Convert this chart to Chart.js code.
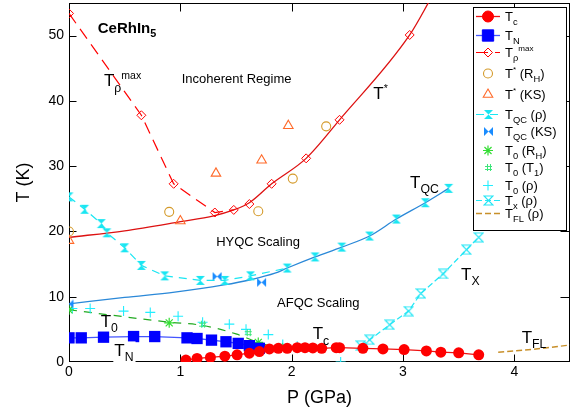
<!DOCTYPE html>
<html>
<head>
<meta charset="utf-8">
<script src="https://cdn.jsdelivr.net/npm/chart.js@4.4.1/dist/chart.umd.min.js"></script>
<style>
  html, body { margin: 0; padding: 0; background: #fff; }
  #chart { display: block; }
</style>
</head>
<body>
<canvas id="chart" width="573" height="413"></canvas>
<script>
// CeRhIn5 phase diagram, pressure P (GPa) vs temperature T (K)
const xTicks = [0, 1, 2, 3, 4];
const yTicks = [0, 10, 20, 30, 40, 50];

const tcP = [1.05, 1.15, 1.27, 1.40, 1.51, 1.62, 1.71, 1.80, 1.88, 1.96, 2.05, 2.12, 2.19, 2.27, 2.40, 2.43, 2.64, 2.82, 3.01, 3.21, 3.34, 3.50, 3.68];
const tcT = [0.3, 0.55, 0.7, 0.9, 1.1, 1.35, 1.6, 2.0, 2.1, 2.1, 2.2, 2.2, 2.15, 2.1, 2.2, 2.2, 2.1, 2.0, 1.9, 1.7, 1.5, 1.4, 1.1];

const tnP = [0, 0.11, 0.31, 0.58, 0.77, 1.06, 1.15, 1.28, 1.41, 1.52, 1.62, 1.71];
const tnT = [3.7, 3.7, 3.8, 3.9, 3.9, 3.7, 3.6, 3.35, 3.1, 2.85, 2.5, 2.1];

const rhoMaxP = [0, 0.65, 0.94, 1.31, 1.48, 1.62, 1.82, 2.13, 2.43, 3.06];
const rhoMaxT = [53.4, 37.8, 27.3, 22.9, 23.3, 24.2, 27.3, 31.2, 37.1, 50.1];

const starRhP = [0, 0.90, 1.70, 2.01, 2.31];
const starRhT = [20.0, 23.0, 23.1, 28.1, 36.1];

const starKsP = [0, 1.0, 1.32, 1.73, 1.97];
const starKsT = [18.6, 21.6, 28.9, 30.9, 36.2];

// T* crossover line (solid red)
const starLineP = [0, 0.5, 1.0, 1.3, 1.48, 1.62, 1.82, 2.13, 2.43, 3.06, 3.26];
const starLineT = [19.1, 20.1, 21.5, 22.4, 23.3, 24.4, 27.3, 31.2, 37.1, 50.1, 56];

const qcRhoP = [0, 0.14, 0.29, 0.34, 0.50, 0.65, 0.86, 1.18, 1.40, 1.63, 1.96, 2.21, 2.45, 2.70, 2.94, 3.20, 3.41];
const qcRhoT = [25.3, 23.4, 21.2, 19.8, 17.5, 14.8, 13.2, 12.5, 12.5, 13.2, 14.4, 16.1, 17.6, 19.3, 21.9, 24.4, 26.6];

const qcKsP = [0, 1.33, 1.73];
const qcKsT = [8.9, 13.1, 12.2];

// T_QC line (solid blue)
const qcLineP = [0, 0.5, 0.95, 1.39, 1.63, 1.85, 1.96, 2.21, 2.45, 2.70, 2.94, 3.20, 3.41];
const qcLineT = [8.9, 9.9, 10.7, 11.8, 12.6, 13.6, 14.4, 16.1, 17.6, 19.3, 21.9, 24.4, 26.6];

const t0RhP = [0, 0.90, 1.70];
const t0RhT = [8.0, 6.0, 3.0];

const t0T1P = [1.20, 1.61, 1.90];
const t0T1T = [5.8, 4.5, 2.4];

const t0RhoP = [0.03, 0.19, 0.49, 0.73, 0.98, 1.20, 1.44, 1.59, 1.79, 1.92, 2.05, 2.44];
const t0RhoT = [8.2, 8.2, 7.8, 7.6, 7.0, 6.1, 5.8, 5.0, 4.2, 2.7, 2.4, 0.0];

// T0 guide line (green dashed)
const t0LineP = [0, 0.9, 1.2, 1.5, 1.7, 1.85, 1.95];
const t0LineT = [8.0, 6.1, 5.6, 4.3, 3.0, 2.3, 2.0];

const txP = [2.62, 2.70, 2.88, 3.05, 3.16, 3.36, 3.57, 3.68];
const txT = [2.5, 3.4, 5.7, 7.8, 10.5, 13.5, 17.2, 19.1];

const tflP = [3.855, 4.17, 4.5];
const tflT = [1.5, 1.95, 2.6];

const FONT = '"Liberation Sans", Arial, sans-serif';

function pts(xs, ys) {
    return xs.map((x, i) => ({ x: x, y: ys[i] }));
}

// little canvases for the marker shapes Chart.js does not have
function hourglass(color, filled, sideways) {
    const c = document.createElement("canvas");
    c.width = 11;
    c.height = 11;
    const g = c.getContext("2d");
    g.fillStyle = color;
    g.strokeStyle = color;
    g.lineWidth = 1.2;
    g.beginPath();
    if (sideways) {
        g.moveTo(1, 1); g.lineTo(10, 10); g.lineTo(10, 1); g.lineTo(1, 10);
    } else {
        g.moveTo(1, 1); g.lineTo(10, 1); g.lineTo(1, 10); g.lineTo(10, 10);
    }
    g.closePath();
    if (filled) g.fill(); else g.stroke();
    return c;
}

function hashMark(color) {
    const c = document.createElement("canvas");
    c.width = 9;
    c.height = 9;
    const g = c.getContext("2d");
    g.strokeStyle = color;
    g.lineWidth = 1;
    g.beginPath();
    g.moveTo(3.5, 1); g.lineTo(3.5, 8);
    g.moveTo(6.5, 1); g.lineTo(6.5, 8);
    g.moveTo(1, 3.5); g.lineTo(8, 3.5);
    g.moveTo(1, 6.5); g.lineTo(8, 6.5);
    g.stroke();
    return c;
}

const NONE = "rgba(0,0,0,0)";

const datasets = [
    { // 0
        label: "Tc", data: pts(tcP, tcT), showLine: true,
        borderColor: "#ee1111", borderWidth: 1.3,
        pointStyle: "circle", pointRadius: 5.5, pointBorderWidth: 0,
        pointBackgroundColor: "#ff0000", pointBorderColor: "#ff0000"
    },
    { // 1
        label: "TN", data: pts(tnP, tnT), showLine: true,
        borderColor: "#4455ff", borderWidth: 1.3,
        pointStyle: "rect", pointRadius: 8, pointBorderWidth: 0,
        pointBackgroundColor: "#0000ff", pointBorderColor: "#0000ff"
    },
    { // 2
        label: "Trho max", data: pts(rhoMaxP, rhoMaxT), showLine: true,
        borderColor: "#ff0000", borderWidth: 1.2, borderDash: [12, 7],
        segment: { borderColor: c => c.p0.parsed.x >= 1.45 ? NONE : undefined },
        pointStyle: "rectRot", pointRadius: 4.5, pointBorderWidth: 1,
        pointBackgroundColor: NONE, pointBorderColor: "#ff0000"
    },
    { // 3
        label: "T* (RH)", data: pts(starRhP, starRhT), showLine: false,
        pointStyle: "circle", pointRadius: 4.5, pointBorderWidth: 1.1,
        pointBackgroundColor: NONE, pointBorderColor: "#d49a2a", borderColor: "#d49a2a"
    },
    { // 4
        label: "T* (KS)", data: pts(starKsP, starKsT), showLine: false,
        pointStyle: "triangle", pointRadius: 5.5, pointBorderWidth: 1.1,
        pointBackgroundColor: NONE, pointBorderColor: "#ff6a2a", borderColor: "#ff6a2a"
    },
    { // 5
        label: "TQC (rho)", data: pts(qcRhoP, qcRhoT), showLine: true,
        borderColor: "#19e6f2", borderWidth: 1.2, borderDash: [8, 6],
        segment: { borderColor: c => c.p0.parsed.x >= 1.9 ? NONE : undefined },
        pointStyle: hourglass("#19e6f2", true, false), pointRadius: 5
    },
    { // 6
        label: "TQC (KS)", data: pts(qcKsP, qcKsT), showLine: false,
        borderColor: "#1a8cff",
        pointStyle: hourglass("#1a8cff", true, true), pointRadius: 5
    },
    { // 7
        label: "T0 (RH)", data: pts(t0RhP, t0RhT), showLine: false,
        pointStyle: "star", pointRadius: 5, pointBorderWidth: 1.2,
        pointBorderColor: "#33dd33", borderColor: "#33dd33"
    },
    { // 8
        label: "T0 (T1)", data: pts(t0T1P, t0T1T), showLine: false,
        borderColor: "#3de57a",
        pointStyle: hashMark("#3de57a"), pointRadius: 4
    },
    { // 9
        label: "T0 (rho)", data: pts(t0RhoP, t0RhoT), showLine: false,
        pointStyle: "cross", pointRadius: 5, pointBorderWidth: 1.1,
        pointBorderColor: "#22eeff", borderColor: "#22eeff"
    },
    { // 10
        label: "Tx (rho)", data: pts(txP, txT), showLine: true,
        borderColor: "#22e6f5", borderWidth: 1.2, borderDash: [6, 3],
        pointStyle: hourglass("#22e6f5", false, false), pointRadius: 5
    },
    { // 11
        label: "TFL (rho)", data: pts(tflP, tflT), showLine: true,
        borderColor: "#c8902a", borderWidth: 1.4, borderDash: [6, 3],
        cubicInterpolationMode: "monotone", pointRadius: 0
    },
    { // 12 T* line
        label: "T* line", data: pts(starLineP, starLineT), showLine: true,
        borderColor: "#dd1111", borderWidth: 1.3,
        cubicInterpolationMode: "monotone", pointRadius: 0
    },
    { // 13 TQC line
        label: "TQC line", data: pts(qcLineP, qcLineT), showLine: true,
        borderColor: "#2a88d8", borderWidth: 1.3,
        cubicInterpolationMode: "monotone", pointRadius: 0
    },
    { // 14 T0 line
        label: "T0 line", data: pts(t0LineP, t0LineT), showLine: true,
        borderColor: "#22aa22", borderWidth: 1.2, borderDash: [8, 7],
        cubicInterpolationMode: "monotone", pointRadius: 0
    }
];

// text with _{sub} and ^{sup}
function parseRich(s) {
    const parts = [];
    let buf = "";
    let i = 0;
    while (i < s.length) {
        const ch = s[i];
        if ((ch === "_" || ch === "^") && s[i + 1] === "{") {
            if (buf) { parts.push({ t: buf, k: "n" }); buf = ""; }
            const end = s.indexOf("}", i);
            parts.push({ t: s.slice(i + 2, end), k: ch === "_" ? "sub" : "sup" });
            i = end + 1;
        } else {
            buf += ch;
            i++;
        }
    }
    if (buf) parts.push({ t: buf, k: "n" });
    return parts;
}

function richWidth(ctx, s, size, bold) {
    let w = 0;
    parseRich(s).forEach(p => {
        const fs = p.k === "n" ? size : p.k === "sub" ? size * 0.72 : size * 0.62;
        ctx.font = (bold ? "bold " : "") + fs + "px " + FONT;
        w += ctx.measureText(p.t).width;
    });
    return w;
}

// y is the middle of the capitals
function drawRich(ctx, s, x, y, size, bold) {
    ctx.textAlign = "left";
    ctx.textBaseline = "alphabetic";
    const base = y + size * 0.36;
    parseRich(s).forEach(p => {
        let fs = size, dy = 0;
        if (p.k === "sub") { fs = size * 0.72; dy = size * 0.32; }
        if (p.k === "sup") { fs = size * 0.62; dy = -size * 0.42; }
        ctx.font = (bold ? "bold " : "") + fs + "px " + FONT;
        ctx.fillText(p.t, x, base + dy);
        x += ctx.measureText(p.t).width;
    });
}

function drawMarker(ctx, d, x, y) {
    const style = d.pointStyle;
    if (!style || d.pointRadius === 0) return;
    if (typeof style !== "string") {
        ctx.drawImage(style, Math.round(x - style.width / 2), Math.round(y - style.height / 2));
        return;
    }
    const r = d.pointRadius;
    ctx.save();
    ctx.fillStyle = d.pointBackgroundColor || NONE;
    ctx.strokeStyle = d.pointBorderColor || d.borderColor;
    ctx.lineWidth = d.pointBorderWidth || 1;
    ctx.setLineDash([]);
    ctx.beginPath();
    if (style === "circle") {
        ctx.arc(x, y, r, 0, Math.PI * 2);
    } else if (style === "rect") {
        const s = r * Math.SQRT1_2;
        ctx.rect(x - s, y - s, 2 * s, 2 * s);
    } else if (style === "rectRot") {
        ctx.moveTo(x - r, y); ctx.lineTo(x, y - r); ctx.lineTo(x + r, y); ctx.lineTo(x, y + r);
        ctx.closePath();
    } else if (style === "triangle") {
        let a = 0;
        ctx.moveTo(x + Math.sin(a) * r, y - Math.cos(a) * r);
        a += Math.PI * 2 / 3;
        ctx.lineTo(x + Math.sin(a) * r, y - Math.cos(a) * r);
        a += Math.PI * 2 / 3;
        ctx.lineTo(x + Math.sin(a) * r, y - Math.cos(a) * r);
        ctx.closePath();
    } else if (style === "cross" || style === "star") {
        ctx.moveTo(x, y - r); ctx.lineTo(x, y + r);
        ctx.moveTo(x - r, y); ctx.lineTo(x + r, y);
        if (style === "star") {
            const q = r * Math.SQRT1_2;
            ctx.moveTo(x - q, y - q); ctx.lineTo(x + q, y + q);
            ctx.moveTo(x - q, y + q); ctx.lineTo(x + q, y - q);
        }
    }
    ctx.fill();
    ctx.stroke();
    ctx.restore();
}

// frame round the plot with inward ticks on all four sides
const framePlugin = {
    id: "frame",
    beforeDatasetsDraw(chart) {
        const { ctx, chartArea: a, scales } = chart;
        const L = Math.round(a.left) + 0.5, R = Math.round(a.right) - 0.5;
        const T = Math.round(a.top) + 0.5, B = Math.round(a.bottom) - 0.5;
        ctx.save();
        ctx.strokeStyle = "#000";
        ctx.lineWidth = 1;
        ctx.strokeRect(L, T, R - L, B - T);
        ctx.beginPath();
        scales.x.ticks.forEach(t => {
            const px = Math.round(scales.x.getPixelForValue(t.value)) + 0.5;
            if (px <= L + 1 || px >= R - 1) return;
            ctx.moveTo(px, B); ctx.lineTo(px, B - 7);
            ctx.moveTo(px, T); ctx.lineTo(px, T + 8);
        });
        scales.y.ticks.forEach(t => {
            const py = Math.round(scales.y.getPixelForValue(t.value)) + 0.5;
            if (py <= T + 1 || py >= B - 1) return;
            ctx.moveTo(L, py); ctx.lineTo(L + 7, py);
            ctx.moveTo(R, py); ctx.lineTo(R - 9, py);
        });
        ctx.stroke();
        ctx.restore();
    }
};

// labels inside the plot, placed in data units
const notes = [
    { text: "CeRhIn_{5}", p: 0.258, t: 51.3, size: 15, bold: true },
    { text: "T_{ρ}^{max}", p: 0.314, t: 43.2, size: 17 },
    { text: "Incoherent Regime", p: 1.505, t: 43.4, size: 13, center: true },
    { text: "T^{*}", p: 2.733, t: 41.2, size: 17 },
    { text: "T_{QC}", p: 3.063, t: 27.6, size: 17 },
    { text: "HYQC Scaling", p: 1.698, t: 18.5, size: 13, center: true },
    { text: "AFQC Scaling", p: 2.239, t: 9.1, size: 13, center: true },
    { text: "T_{0}", p: 0.285, t: 6.3, size: 17 },
    { text: "T_{N}", p: 0.407, t: 1.85, size: 17, box: true },
    { text: "T_{c}", p: 2.189, t: 4.4, size: 17 },
    { text: "T_{X}", p: 3.521, t: 13.5, size: 17 },
    { text: "T_{FL}", p: 4.066, t: 3.9, size: 17 }
];

const notesPlugin = {
    id: "notes",
    afterDatasetsDraw(chart) {
        const { ctx, scales } = chart;
        ctx.save();
        notes.forEach(n => {
            let x = scales.x.getPixelForValue(n.p);
            const y = scales.y.getPixelForValue(n.t);
            const w = richWidth(ctx, n.text, n.size, n.bold);
            if (n.center) x -= w / 2;
            if (n.box) {
                ctx.fillStyle = "#fff";
                ctx.fillRect(x - 1, y - n.size * 0.5, w + 3, n.size * 1.25);
            }
            ctx.fillStyle = "#000";
            drawRich(ctx, n.text, x, y, n.size, n.bold);
        });
        ctx.restore();
    }
};

// legend drawn by hand so the labels can carry sub- and superscripts
const legendRows = [
    { ds: 0, text: "T_{c}", line: true },
    { ds: 1, text: "T_{N}", line: true },
    { ds: 2, text: "T_{ρ}^{max}", line: true },
    { ds: 3, text: "T^{*} (R_{H})" },
    { ds: 4, text: "T^{*} (KS)" },
    { ds: 5, text: "T_{QC} (ρ)", line: true },
    { ds: 6, text: "T_{QC} (KS)" },
    { ds: 7, text: "T_{0} (R_{H})" },
    { ds: 8, text: "T_{0} (T_{1})" },
    { ds: 9, text: "T_{0} (ρ)" },
    { ds: 10, text: "T_{x} (ρ)", line: true },
    { ds: 11, text: "T_{FL} (ρ)", line: true }
];
const legendY = [16, 35, 52, 73, 94, 114, 131, 150, 167, 185, 200, 213];

const legendPlugin = {
    id: "phaseLegend",
    afterDatasetsDraw(chart) {
        const ctx = chart.ctx;
        const ds = chart.data.datasets;
        ctx.save();
        ctx.fillStyle = "#fff";
        ctx.fillRect(473, 7, 94, 224);
        ctx.strokeStyle = "#000";
        ctx.lineWidth = 1;
        ctx.strokeRect(473.5, 7.5, 93, 223);
        legendRows.forEach((row, i) => {
            const d = ds[row.ds];
            const y = legendY[i];
            if (row.line) {
                ctx.save();
                ctx.strokeStyle = d.borderColor;
                ctx.lineWidth = d.borderWidth || 1;
                ctx.setLineDash(d.borderDash || []);
                ctx.beginPath();
                ctx.moveTo(476, y + 0.5);
                ctx.lineTo(500, y + 0.5);
                ctx.stroke();
                ctx.restore();
            }
            drawMarker(ctx, d, 488, y + 0.5);
            ctx.fillStyle = "#000";
            drawRich(ctx, row.text, 505, y, 13, false);
        });
        ctx.restore();
    }
};

// fixed plot box: no label padding added by the scales themselves
function fixBox(size) {
    return s => {
        if (s.isHorizontal()) s.height = size; else s.width = size;
        s.paddingTop = 0;
        s.paddingBottom = 0;
        s.paddingLeft = 0;
        s.paddingRight = 0;
    };
}

const ctx = document.getElementById("chart").getContext("2d");
new Chart(ctx, {
    type: "scatter",
    data: { datasets: datasets },
    options: {
        responsive: false,
        animation: false,
        events: [],
        layout: { autoPadding: false, padding: { top: 3, right: 3, left: 0, bottom: 0 } },
        plugins: {
            legend: { display: false },
            tooltip: { enabled: false }
        },
        scales: {
            x: {
                type: "linear",
                min: 0,
                max: 4.5,
                afterBuildTicks: s => { s.ticks = xTicks.map(v => ({ value: v })); },
                afterFit: fixBox(51),
                grid: { display: false, drawTicks: false },
                border: { display: false },
                ticks: { color: "#000", font: { family: FONT, size: 14 }, padding: 2, maxRotation: 0 },
                title: {
                    display: true, text: "P (GPa)", color: "#000",
                    font: { family: FONT, size: 18 }, padding: { top: 0, bottom: 4 }
                }
            },
            y: {
                type: "linear",
                min: 0,
                max: 55,
                afterBuildTicks: s => { s.ticks = yTicks.map(v => ({ value: v })); },
                afterFit: fixBox(69),
                grid: { display: false, drawTicks: false },
                border: { display: false },
                ticks: { color: "#000", font: { family: FONT, size: 14 }, padding: 5 },
                title: {
                    display: true, text: "T (K)", color: "#000",
                    font: { family: FONT, size: 18 }, padding: { top: 13, bottom: 0 }
                }
            }
        }
    },
    plugins: [framePlugin, notesPlugin, legendPlugin]
});
</script>
</body>
</html>
